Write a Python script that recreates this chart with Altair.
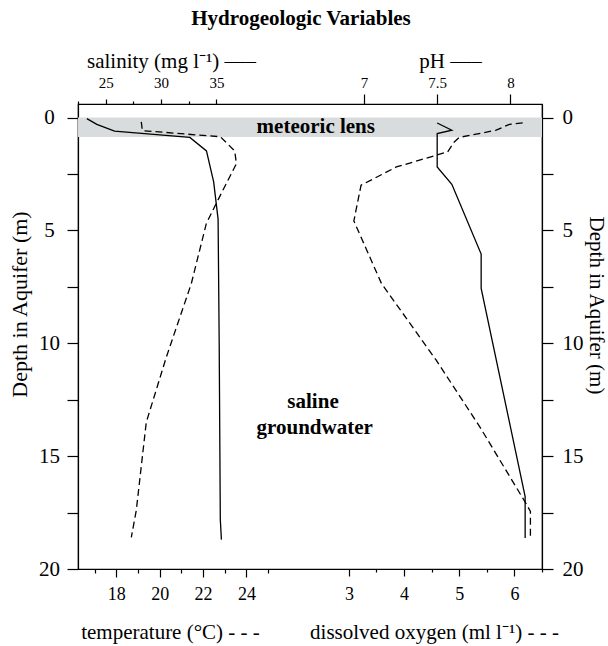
import altair as alt
import pandas as pd

# ---- data ----
sal_depth = [0.05, 0.3, 0.6, 0.88, 1.48, 2.85, 4.5, 10.0, 17.8, 18.7]
sal_value = [23.3, 24.2, 25.8, 32.6, 34.1, 34.75, 35.15, 35.25, 35.35, 35.45]

temp_depth = [0.19, 0.58, 0.85, 1.48, 2.04, 3.8, 4.7, 7.35, 10.6, 13.5, 17.4, 18.6]
temp_value = [19.15, 19.2, 22.8, 23.46, 23.54, 22.61, 22.15, 21.46, 20.31, 19.38, 18.92, 18.69]

ph_depth = [0.24, 0.56, 0.71, 2.19, 2.96, 6.05, 7.57, 16.79, 18.63]
ph_value = [7.5, 7.6, 7.5, 7.5, 7.6, 7.8, 7.8, 8.1, 8.1]

do_depth = [0.24, 0.3, 0.56, 0.88, 1.08, 1.52, 2.19, 3.0, 4.58, 7.35, 10.74, 13.69, 17.1, 17.45, 18.6]
do_value = [6.15, 5.91, 5.67, 5.0, 4.91, 4.79, 3.86, 3.22, 3.09, 3.59, 4.58, 5.37, 6.21, 6.29, 6.29]

lens_top = [0.0]
lens_bottom = [0.86]

ann_text = ["meteoric lens", "saline", "groundwater"]
ann_depth = [0.43, 12.6, 13.75]
ann_do = [2.40, 2.35, 2.38]

depth_ticks = [0, 2.5, 5, 7.5, 10, 12.5, 15, 17.5, 20]
sal_ticks = [22.5, 25, 27.5, 30, 32.5, 35]
ph_ticks = [7, 7.5, 8]
temp_ticks = [17, 18, 19, 20, 21, 22, 23, 24, 25]
do_ticks = [3, 3.5, 4, 4.5, 5, 5.5, 6, 6.5]

FONT = "Liberation Serif"

def frame(xs, ys, xname):
    return pd.DataFrame({xname: xs, "depth": ys, "i": list(range(len(xs)))})

sal_df = frame(sal_value, sal_depth, "salinity")
temp_df = frame(temp_value, temp_depth, "temperature")
ph_df = frame(ph_value, ph_depth, "pH")
do_df = frame(do_value, do_depth, "oxygen")
band_df = pd.DataFrame({"top": lens_top, "bottom": lens_bottom})
ann_df = pd.DataFrame({"label": ann_text, "depth": ann_depth, "oxygen": ann_do})

yscale = alt.Scale(domain=[-0.6, 20], reverse=True, nice=False, zero=False)
sal_scale = alt.Scale(domain=[22.5, 64.4], nice=False, zero=False)
ph_scale = alt.Scale(domain=[5.05, 8.215], nice=False, zero=False)
temp_scale = alt.Scale(domain=[16.23, 37.64], nice=False, zero=False)
do_scale = alt.Scale(domain=[-1.91, 6.5], nice=False, zero=False)


def cond(test, major, minor):
    return {"condition": {"test": test, "value": major}, "value": minor}


def major_only(step):
    return "datum.value % " + str(step) + " === 0 ? '' + datum.value : ''"


left_axis = alt.Axis(
    orient="left", values=depth_ticks, labelExpr=major_only(5),
    tickSize=11, labelAlign="center", labelPadding=18, labelFontSize=21,
    title="Depth in Aquifer (m)", titleFontSize=22, titleFontWeight="normal",
    titleAngle=270, titleX=-59, titleY=200, titleAlign="center", titleBaseline="middle",
)
right_axis = alt.Axis(
    orient="right", values=depth_ticks, labelExpr=major_only(5),
    tickSize=11, labelAlign="left", labelPadding=9, labelFontSize=21,
    title="Depth in Aquifer (m)", titleFontSize=21, titleFontWeight="normal",
    titleAngle=90, titleX=53, titleY=201, titleAlign="center", titleBaseline="middle",
)
sal_axis = alt.Axis(
    orient="top", values=sal_ticks, labelExpr=major_only(5),
    tickSize=cond("datum.value % 5 === 0", 5, 3), labelPadding=9, labelFontSize=15,
    title="salinity (mg l\u207b\u00b9) \u2014\u2013", titleFontSize=21, titleFontWeight="normal",
    titleX=93, titleY=-37, titleAlign="center", titleBaseline="alphabetic",
)
ph_axis = alt.Axis(
    orient="top", values=ph_ticks, labelExpr="'' + datum.value",
    tickSize=10, labelPadding=4, labelFontSize=15,
    title="pH \u2014\u2013", titleFontSize=21, titleFontWeight="normal",
    titleX=372, titleY=-37, titleAlign="center", titleBaseline="alphabetic",
)
temp_axis = alt.Axis(
    orient="bottom", values=temp_ticks, labelExpr=major_only(2),
    tickSize=cond("datum.value % 2 === 0", 8, 4), labelPadding=8, labelFontSize=18,
    title="temperature (\u00b0C) - - -", titleFontSize=21, titleFontWeight="normal",
    titleX=92, titleY=69, titleAlign="center", titleBaseline="alphabetic",
)
do_axis = alt.Axis(
    orient="bottom", values=do_ticks, labelExpr=major_only(1),
    tickSize=cond("datum.value % 1 === 0", 7, 3), labelPadding=9, labelFontSize=18,
    title="dissolved oxygen (ml l\u207b\u00b9) - - -", titleFontSize=21, titleFontWeight="normal",
    titleX=356, titleY=69, titleAlign="center", titleBaseline="alphabetic",
)

band = alt.Chart(band_df).mark_rect(color="#d9dcdc").encode(
    y=alt.Y("top:Q", scale=yscale, axis=None), y2="bottom:Q"
)

sal = alt.Chart(sal_df).mark_line(color="black", strokeWidth=1.3).encode(
    x=alt.X("salinity:Q", scale=sal_scale, axis=sal_axis),
    y=alt.Y("depth:Q", scale=yscale, axis=left_axis),
    order="i:Q",
)
ph = alt.Chart(ph_df).mark_line(color="black", strokeWidth=1.3).encode(
    x=alt.X("pH:Q", scale=ph_scale, axis=ph_axis),
    y=alt.Y("depth:Q", scale=yscale, axis=right_axis),
    order="i:Q",
)
temp = alt.Chart(temp_df).mark_line(color="black", strokeWidth=1.3, strokeDash=[7, 4]).encode(
    x=alt.X("temperature:Q", scale=temp_scale, axis=temp_axis),
    y=alt.Y("depth:Q", scale=yscale, axis=None),
    order="i:Q",
)
do = alt.Chart(do_df).mark_line(color="black", strokeWidth=1.3, strokeDash=[7, 4]).encode(
    x=alt.X("oxygen:Q", scale=do_scale, axis=do_axis),
    y=alt.Y("depth:Q", scale=yscale, axis=None),
    order="i:Q",
)
ann = alt.Chart(ann_df).mark_text(font=FONT, fontSize=21, fontWeight="bold", color="black",
                                  align="center", baseline="middle").encode(
    x=alt.X("oxygen:Q", scale=do_scale, axis=None),
    y=alt.Y("depth:Q", scale=yscale, axis=None),
    text="label:N",
)

chart = (
    alt.layer(band, sal, ph, temp, do, ann)
    .resolve_scale(x="independent", y="independent")
    .properties(
        width=464, height=465,
        autosize=alt.AutoSizeParams(type="none"),
        padding={"left": 78, "top": 104, "right": 66, "bottom": 77},
        title=alt.TitleParams("Hydrogeologic Variables", font=FONT, fontSize=21,
                              fontWeight="bold", anchor="middle", dx=-9, dy=-17,
                              color="black"),
    )
    .configure_view(stroke="black", strokeWidth=1.2)
    .configure_axis(
        grid=False, domainColor="black", tickColor="black", labelColor="black",
        titleColor="black", labelFont=FONT, titleFont=FONT, domainWidth=1.2, tickWidth=1.2,
    )
)

chart.save("out.html", embed_options={"renderer": "svg", "actions": False})
